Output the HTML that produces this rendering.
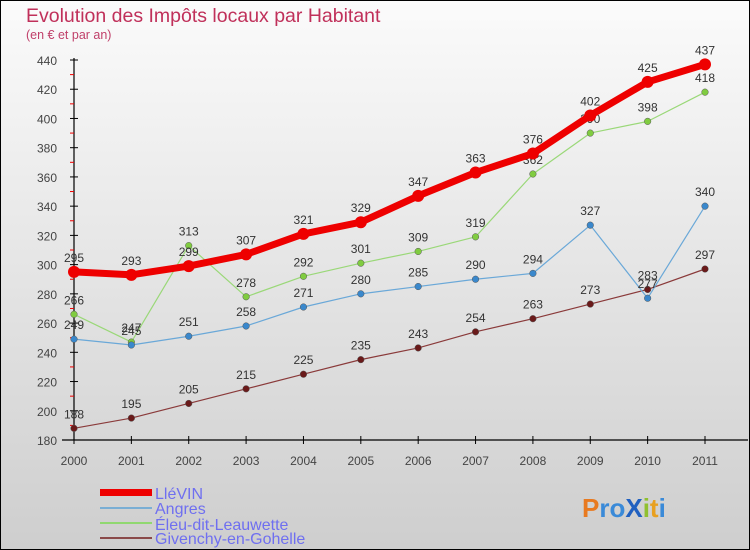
<!DOCTYPE html>
<html><head><meta charset="utf-8"><style>
body{margin:0;width:750px;height:550px;overflow:hidden}
svg{display:block;font-family:"Liberation Sans",sans-serif}
</style></head><body>
<svg id="c" width="750" height="550">
<defs><linearGradient id="bg" x1="0" y1="0" x2="0" y2="1"><stop offset="0" stop-color="#fbfbfb"/><stop offset="1" stop-color="#cecece"/></linearGradient></defs>
<rect x="0.5" y="0.5" width="749" height="549" fill="url(#bg)" stroke="#000"/>
<text x="26" y="22" font-size="19.5" fill="#c0305a">Evolution des Impôts locaux par Habitant</text>
<text x="26" y="39" font-size="12.5" fill="#c0406a">(en € et par an)</text>
<g id="axes"></g><g id="series"></g>
<g>
<rect x="100" y="489" width="52" height="7" fill="#e00"/>
<text x="155" y="499" font-size="16" fill="#6f6ff0">LléVIN</text>
<rect x="100" y="507" width="52" height="2" fill="#7aaed4"/>
<text x="155" y="514" font-size="16" fill="#6f6ff0">Angres</text>
<rect x="100" y="522" width="52" height="2" fill="#90d870"/>
<text x="155" y="530" font-size="16" fill="#6f6ff0">Éleu-dit-Leauwette</text>
<rect x="100" y="537" width="52" height="2" fill="#8a4a4a"/>
<text x="155" y="544" font-size="16" fill="#6f6ff0">Givenchy-en-Gohelle</text>
</g>
<text x="582" y="517" font-size="26" font-weight="bold"><tspan fill="#e87a20">P</tspan><tspan fill="#3a8ad8">ro</tspan><tspan fill="#2060c0">X</tspan><tspan fill="#90c030">i</tspan><tspan fill="#e8a020">t</tspan><tspan fill="#3a8ad8">i</tspan></text>
</svg>
<script>
const years=[2000,2001,2002,2003,2004,2005,2006,2007,2008,2009,2010,2011];
const yTicks=[180,200,220,240,260,280,300,320,340,360,380,400,420,440];
const lievin=[295,293,299,307,321,329,347,363,376,402,425,437];
const angres=[249,245,251,258,271,280,285,290,294,327,277,340];
const eleu=[266,247,313,278,292,301,309,319,362,390,398,418];
const givenchy=[188,195,205,215,225,235,243,254,263,273,283,297];
const NS="http://www.w3.org/2000/svg";
const x=i=>74+i*(705-74)/11;
const y=v=>440-(v-180)*380/260;
function mk(t,a,p){const e=document.createElementNS(NS,t);for(const k in a)e.setAttribute(k,a[k]);p.appendChild(e);return e;}
const ax=document.getElementById('axes');
const yl=mk('line',{x1:74,y1:58,x2:74,y2:440,stroke:'#000','stroke-width':1.2},ax);


const xl=mk('line',{x1:62,y1:440,x2:748,y2:440,stroke:'#000','stroke-width':1.2},ax);


yTicks.forEach((v,k)=>{
  mk('line',{x1:70,y1:y(v),x2:78,y2:y(v),stroke:'#000'},ax);
  if(k<yTicks.length-1)mk('line',{x1:70,y1:y(v+10),x2:74,y2:y(v+10),stroke:'#e00'},ax);
  const t=mk('text',{x:57,y:y(v)+5,'text-anchor':'end','font-size':12,fill:'#444'},ax);
  t.textContent=v;
  
  
});
years.forEach((yr,i)=>{
  mk('line',{x1:x(i),y1:436,x2:x(i),y2:444,stroke:'#000'},ax);
  const t=mk('text',{x:x(i),y:465,'text-anchor':'middle','font-size':12,fill:'#444'},ax);
  t.textContent=yr;
  
  
});
const sg=document.getElementById('series');
function draw(vals,name,col,dot,w,r){
  const g=mk('g',{},sg);
  
  
  const pl=mk('polyline',{points:vals.map((v,i)=>x(i)+','+y(v)).join(' '),fill:'none',stroke:col,'stroke-width':w,'stroke-linejoin':'round'},g);
  
  
  vals.forEach((v,i)=>{
    const c=mk('circle',{cx:x(i),cy:y(v),r:r,fill:dot,stroke:r>4?'none':'#555','stroke-width':0.5},g);
    
    
    const t=mk('text',{x:x(i),y:y(v)-10,'text-anchor':'middle','font-size':12,fill:'#333'},g);
    t.textContent=v;
    
    
  });
}
draw(givenchy,'givenchy','#8a3a3a','#6a1a1a',1.2,3.3);
draw(eleu,'eleu','#9ad878','#80cc40',1.2,3.3);
draw(angres,'angres','#6aa8d8','#3a88cc',1.2,3.3);
draw(lievin,'lievin','#ee0000','#ee0000',7,6);
</script>
</body></html>
